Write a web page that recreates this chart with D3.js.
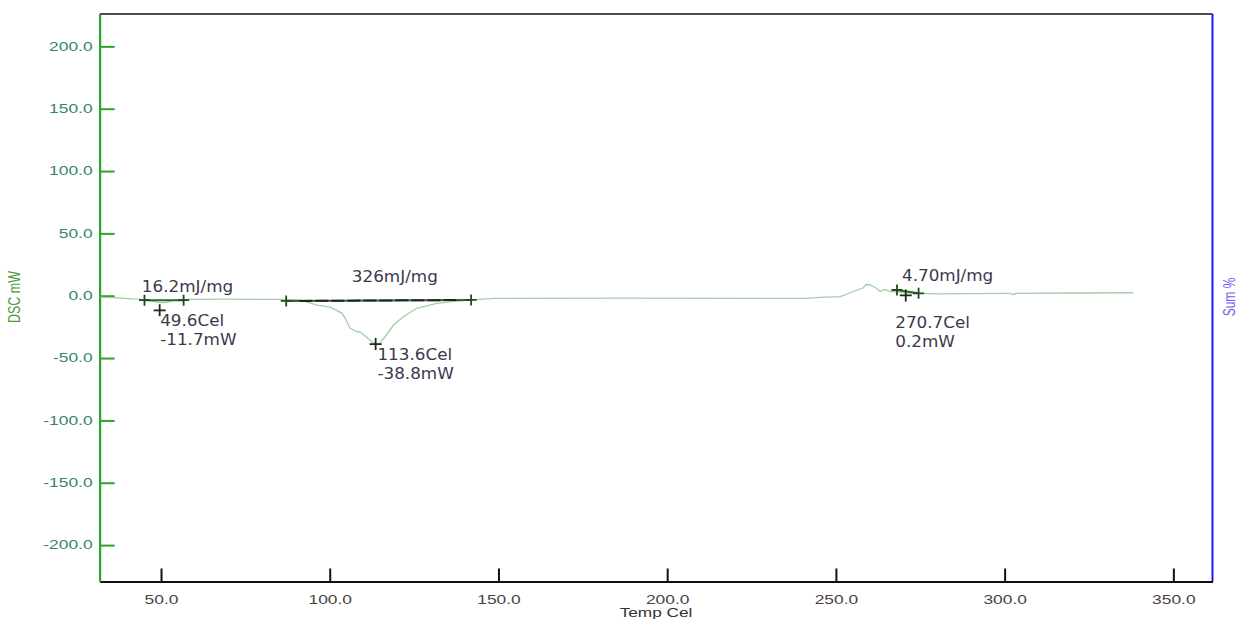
<!DOCTYPE html>
<html>
<head>
<meta charset="utf-8">
<script src="https://cdn.jsdelivr.net/npm/d3@7"></script>
<style>
  html, body { margin: 0; padding: 0; background: #ffffff; }
  svg { display: block; }
</style>
</head>
<body>
<svg id="chart" width="1238" height="619"></svg>
<script>
// ---- data ----
const tempCel = [32, 36.4, 41.3, 45.3, 47.4, 49.2, 51.3, 53.4, 56.6, 70.5, 87.1, 91.2, 96.2, 100.1, 103.6, 104.9,
  106.0, 107.0, 108.0, 109.0, 110.5, 112.5, 113.8, 114.9, 116.4, 118.9, 121.8, 125.8, 131.7, 137.7, 141.9,
  146.6, 148.4, 186.1, 240.9, 245.3, 251.3, 254.8, 258.1, 259.0, 260.2, 261.9, 263.1, 264.3, 266.1, 268.2,
  272.0, 279.9, 299.6, 301.7, 302.5, 303.4, 319.4, 338.1];
const dscMW = [-1.4, -1.6, -2.6, -3.0, -4.3, -5.5, -5.5, -3.9, -3.0, -2.8, -3.0, -3.4, -7.5, -9.1, -13.9, -19.5,
  -25.9, -27.5, -28.9, -29.1, -32.3, -36.9, -39.1, -37.9, -32.9, -23.5, -16.8, -10.1, -6.1, -4.3, -3.4,
  -2.5, -2.1, -2.0, -2.1, -1.4, -0.8, 3.0, 6.4, 9.0, 8.6, 6.2, 3.4, 5.0, 3.4, 3.0,
  2.2, 1.5, 1.9, 1.9, 1.0, 1.9, 2.2, 2.4];

const xTickValues = [50, 100, 150, 200, 250, 300, 350];
const yTickValues = [-200, -150, -100, -50, 0, 50, 100, 150, 200];

const baseStartT = [45.1, 87.1, 268.1];
const baseStartV = [-3.6, -4.2, 4.6];
const baseEndT = [56.7, 141.9, 274.5];
const baseEndV = [-3.6, -3.4, 1.9];
const enthalpyLabels = ["16.2mJ/mg", "326mJ/mg", "4.70mJ/mg"];

const peakT = [49.6, 113.6, 270.7];
const peakV = [-11.7, -38.8, 0.2];
const peakTempLabels = ["49.6Cel", "113.6Cel", "270.7Cel"];
const peakValueLabels = ["-11.7mW", "-38.8mW", "0.2mW"];

// ---- layout ----
const plot = { left: 99.6, right: 1212.5, top: 14, bottom: 581.5 };
// pixel offsets of annotation texts relative to their peak marker
const enthalpyOffset = [[-17.8, -18.3], [-23.8, -62], [-3.8, -14.5]];
const tempOffset = [[0.5, 15.7], [1.8, 15.9], [-10.5, 32.5]];
const valueGap = 19;

const svg = d3.select("#chart");
const fmt = d => d.toFixed(1);

const x = d3.scaleLinear().domain([31.8, 361.6]).range([plot.left, plot.right]);
const y = d3.scaleLinear().domain([-229.2, 225.95]).range([plot.bottom, plot.top]);

// top frame line
svg.append("line")
  .attr("x1", plot.left).attr("x2", plot.right)
  .attr("y1", plot.top).attr("y2", plot.top)
  .attr("stroke", "#111").attr("stroke-width", 1.5);

// right (blue) axis line
svg.append("line")
  .attr("x1", plot.right).attr("x2", plot.right)
  .attr("y1", plot.top).attr("y2", plot.bottom)
  .attr("stroke", "#1a1aff").attr("stroke-width", 2);

// bottom axis
const gx = svg.append("g")
  .attr("transform", `translate(0,${plot.bottom})`)
  .call(d3.axisBottom(x).tickValues(xTickValues).tickFormat(fmt)
    .tickSizeInner(-13).tickSizeOuter(0).tickPadding(14));
gx.select(".domain").attr("stroke", "#111").attr("stroke-width", 2);
gx.selectAll(".tick line").attr("stroke", "#111").attr("stroke-width", 2);
gx.selectAll(".tick text")
  .attr("font-family", "'Liberation Sans', Arial, sans-serif")
  .attr("font-size", 12)
  .attr("fill", "#4a4242")
  .attr("x", 0)
  .attr("transform", "scale(1.45,1)");

// left axis
const gy = svg.append("g")
  .attr("transform", `translate(${plot.left},0)`)
  .call(d3.axisLeft(y).tickValues(yTickValues).tickFormat(fmt)
    .tickSizeInner(-15).tickSizeOuter(0).tickPadding(7));
gy.select(".domain").attr("stroke", "#2ea12e").attr("stroke-width", 2.2);
gy.selectAll(".tick line").attr("stroke", "#2ea12e").attr("stroke-width", 2);
gy.selectAll(".tick text")
  .attr("font-family", "'Liberation Sans', Arial, sans-serif")
  .attr("font-size", 12)
  .attr("fill", "#378763")
  .attr("x", 0)
  .attr("transform", "translate(-7,0) scale(1.45,1)");

// axis titles
svg.append("text")
  .attr("transform", `translate(${(plot.left + plot.right) / 2},${616.5}) scale(1.38,1)`)
  .attr("text-anchor", "middle")
  .attr("font-family", "'Liberation Sans', Arial, sans-serif")
  .attr("font-size", 12.5)
  .attr("fill", "#333")
  .text("Temp Cel");

svg.append("text")
  .attr("transform", `translate(20,297) rotate(-90) scale(1,1.3)`)
  .attr("text-anchor", "middle")
  .attr("font-family", "'Liberation Sans', Arial, sans-serif")
  .attr("font-size", 12.5)
  .attr("fill", "#4f9a3c")
  .text("DSC mW");

svg.append("text")
  .attr("transform", `translate(1235,297) rotate(-90) scale(1,1.3)`)
  .attr("text-anchor", "middle")
  .attr("font-family", "'Liberation Sans', Arial, sans-serif")
  .attr("font-size", 12)
  .attr("fill", "#6f5cf0")
  .text("Sum %");

// DSC curve
const line = d3.line().x((d, i) => x(tempCel[i])).y((d, i) => y(dscMW[i]));
svg.append("path")
  .attr("d", line(tempCel))
  .attr("fill", "none")
  .attr("stroke", "#a6cda6")
  .attr("stroke-width", 1.3);

// baselines
const plus = (gx0, gy0, s) => `M${gx0 - s},${gy0}H${gx0 + s}M${gx0},${gy0 - s}V${gy0 + s}`;
baseStartT.forEach((t, i) => {
  svg.append("line")
    .attr("x1", x(t)).attr("y1", y(baseStartV[i]))
    .attr("x2", x(baseEndT[i])).attr("y2", y(baseEndV[i]))
    .attr("stroke", "#2a6a2a").attr("stroke-width", 2);
  if (i === 1) {
    const t0 = 91, t1 = 137.5;
    const f = tt => baseStartV[i] + (baseEndV[i] - baseStartV[i]) * (tt - t) / (baseEndT[i] - t);
    svg.append("line")
      .attr("x1", x(t0)).attr("y1", y(f(t0)))
      .attr("x2", x(t1)).attr("y2", y(f(t1)))
      .attr("stroke", "#222").attr("stroke-width", 2)
      .attr("stroke-dasharray", "13,3");
  }
  svg.append("path").attr("d", plus(x(t), y(baseStartV[i]), 5.5))
    .attr("stroke", "#1d4d1d").attr("stroke-width", 1.8).attr("fill", "none");
  svg.append("path").attr("d", plus(x(baseEndT[i]), y(baseEndV[i]), 5.5))
    .attr("stroke", "#1d4d1d").attr("stroke-width", 1.8).attr("fill", "none");
});

// peak markers & labels
const annFont = "'DejaVu Sans', Verdana, sans-serif";
peakT.forEach((t, i) => {
  const px = x(t), py = y(peakV[i]);
  svg.append("path").attr("d", plus(px, py, 6))
    .attr("stroke", "#1a2a1a").attr("stroke-width", 1.8).attr("fill", "none");
  const addText = (tx, ty, str) => svg.append("text")
    .attr("transform", `translate(${tx},${ty}) scale(1.12,1)`)
    .attr("font-family", annFont)
    .attr("font-size", 15)
    .attr("fill", "#3a3a4c")
    .text(str);
  addText(px + enthalpyOffset[i][0], py + enthalpyOffset[i][1], enthalpyLabels[i]);
  addText(px + tempOffset[i][0], py + tempOffset[i][1], peakTempLabels[i]);
  addText(px + tempOffset[i][0], py + tempOffset[i][1] + valueGap, peakValueLabels[i]);
});
</script>
</body>
</html>
